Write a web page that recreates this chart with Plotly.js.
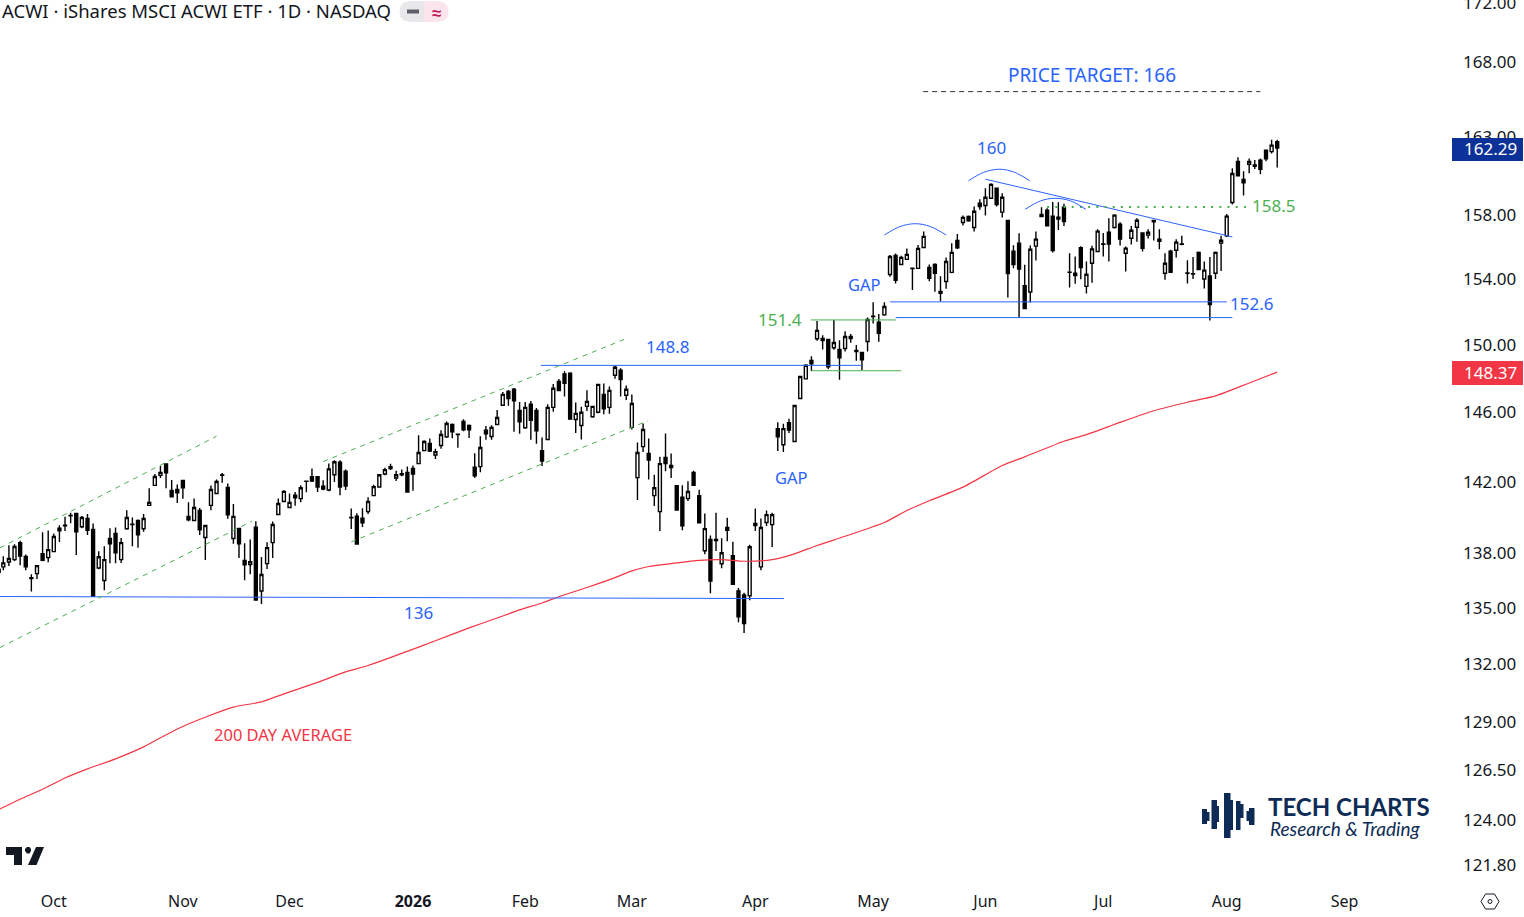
<!DOCTYPE html>
<html>
<head>
<meta charset="utf-8">
<script src="https://cdn.plot.ly/plotly-3.0.1.min.js"></script>
<style>html,body{margin:0;padding:0;background:#fff;overflow:hidden}</style>
</head>
<body>
<div id="chart" style="width:1524px;height:917px"></div>
<script>
const chartTitle = 'ACWI · iShares MSCI ACWI ETF · 1D · NASDAQ';
const openPrices = [137.24,137.51,137.64,138.58,137.82,136.64,136.87,137.97,137.75,138.08,
139.38,139.55,140.09,140.21,139.46,139.92,139.31,137.18,136.49,138.81,
139.09,137.64,139.35,139.60,139.81,139.35,140.66,141.79,142.36,143.01,
141.50,141.56,142.07,140.04,139.81,140.37,138.86,140.66,141.33,142.39,
141.67,138.81,139.37,137.59,137.37,139.44,135.92,137.42,138.58,140.15,
140.88,140.54,141.24,141.04,142.03,142.29,142.29,141.74,141.53,142.40,
143.11,142.60,139.98,140.05,139.94,140.31,141.21,141.70,142.44,142.75,
142.21,142.46,142.52,142.75,143.03,143.78,144.19,143.53,144.07,144.57,
145.29,144.72,145.47,145.24,142.83,142.86,144.96,144.59,145.29,146.41,
147.23,147.35,146.11,145.10,146.47,146.11,143.78,144.42,146.29,147.82,
148.26,148.30,145.58,145.23,146.35,145.74,146.00,147.05,146.29,148.18,
148.48,147.00,145.12,142.23,144.01,143.61,141.21,140.31,143.38,142.81,
141.78,141.12,141.04,142.52,141.21,138.13,138.75,138.75,137.41,139.42,
137.85,135.93,135.71,135.66,139.53,137.24,139.70,139.58,145.05,144.12,
145.40,144.30,146.81,147.97,149.06,150.36,150.26,150.32,149.82,149.72,
149.78,150.38,149.66,149.54,150.20,151.72,151.37,151.81,154.28,155.46,
154.90,155.22,154.67,154.66,155.96,154.72,154.90,153.24,153.85,154.41,
156.40,157.53,157.91,157.21,158.75,158.60,159.06,159.70,158.18,157.65,
155.73,156.23,153.59,153.20,156.04,157.90,158.30,157.93,157.86,158.49,
154.43,154.36,155.94,153.55,154.98,155.71,156.18,156.91,157.21,157.42,
155.60,156.54,157.23,156.87,156.73,157.65,156.48,154.36,155.73,155.79,
156.18,154.37,154.33,155.65,154.00,154.19,154.36,156.23,156.69,158.79,
161.43,160.26,161.24,161.19,161.50,162.15,162.06,162.70];
const highPrices = [137.82,138.44,138.49,138.68,137.92,136.84,137.31,139.16,139.25,139.09,
139.55,140.02,140.24,140.22,140.06,140.17,139.64,138.10,138.38,139.38,
139.42,138.83,140.39,139.98,139.87,140.17,141.63,142.44,142.89,143.02,
142.09,141.84,142.08,140.83,141.05,140.52,139.54,141.79,142.13,142.49,
141.90,140.74,139.38,138.55,138.75,139.77,137.79,138.60,139.76,141.05,
141.52,141.33,141.41,141.80,142.06,142.75,142.30,142.08,143.04,143.22,
143.22,142.70,140.48,140.22,140.50,141.12,141.83,142.44,142.80,143.03,
142.63,142.69,142.86,142.92,144.67,144.38,144.48,143.88,144.96,145.47,
145.35,144.77,145.60,145.29,143.63,144.61,145.20,145.24,146.13,147.19,
147.31,147.43,146.60,146.60,146.66,146.25,144.53,146.47,147.66,147.96,
148.42,148.36,146.58,146.33,147.29,146.37,147.65,147.70,147.52,148.74,
148.60,147.58,147.05,144.25,145.35,144.48,142.40,143.42,144.77,143.61,
141.79,141.80,142.02,142.63,141.55,140.20,138.97,140.25,138.82,139.97,
138.63,136.09,135.82,138.46,140.48,139.92,140.37,140.25,145.42,145.34,
145.63,146.41,148.15,148.84,149.32,151.43,150.58,150.33,151.49,150.28,
150.81,150.65,149.98,149.55,151.65,152.57,151.86,152.57,155.49,155.59,
155.44,155.90,154.72,156.11,156.96,154.90,154.97,154.18,155.34,156.23,
156.80,157.97,157.97,158.54,159.00,159.70,160.02,159.71,159.38,157.66,
156.10,156.85,154.88,156.08,156.96,158.49,158.43,158.83,158.81,158.71,
155.60,155.40,156.04,155.08,156.06,157.10,156.87,157.80,158.05,157.54,
156.02,157.31,157.80,156.88,157.10,157.69,157.10,155.60,155.81,156.48,
156.69,155.17,155.36,155.71,155.08,155.36,155.71,156.69,158.07,160.99,
161.69,160.79,161.62,161.52,161.62,162.16,162.83,162.83];
const lowPrices = [137.05,137.29,137.57,137.33,137.05,135.90,136.58,137.55,137.49,138.05,
138.62,139.22,139.66,137.90,139.38,139.00,135.63,137.11,135.96,137.44,
137.44,137.46,139.29,138.38,138.29,139.18,140.64,141.77,142.21,141.63,
141.14,140.79,141.03,139.77,139.77,139.00,137.62,140.39,141.32,141.94,
139.91,138.51,137.73,136.51,136.84,135.43,135.22,137.13,137.73,140.14,
140.87,140.53,140.64,140.84,141.40,141.99,141.42,141.51,141.46,141.99,
141.23,141.53,139.34,138.50,139.45,140.18,141.20,141.65,142.37,142.67,
142.04,142.31,141.42,141.48,143.02,143.77,143.70,143.30,143.88,144.51,
144.49,143.94,144.90,144.51,142.21,142.54,144.40,144.40,145.28,146.40,
146.39,144.87,144.75,145.04,144.40,144.17,142.90,144.41,146.03,147.26,
146.92,145.56,144.80,144.42,146.07,145.68,145.94,145.88,145.92,147.98,
146.92,146.72,145.00,140.96,143.70,142.12,140.63,139.23,142.60,142.21,
140.39,139.27,140.91,141.76,139.67,137.93,135.80,138.11,137.17,138.65,
136.28,134.23,133.66,135.42,139.23,137.05,139.51,138.34,143.75,143.70,
144.80,144.29,146.80,147.96,148.44,150.24,149.72,148.56,149.70,147.91,
149.60,150.12,149.05,148.50,149.60,151.29,150.18,151.75,154.14,153.73,
154.86,155.21,153.33,154.62,155.95,153.86,153.22,152.63,153.40,154.35,
155.87,157.34,157.57,156.96,158.33,157.97,159.04,158.54,157.84,152.87,
154.67,151.65,152.18,152.56,155.15,157.86,157.27,155.65,157.06,157.31,
153.48,153.71,153.98,153.11,153.77,155.67,155.40,155.08,157.14,156.08,
154.47,156.15,156.31,155.71,156.52,156.39,155.85,153.96,154.38,155.33,
156.10,153.73,154.01,154.57,153.42,151.47,154.01,154.50,156.62,158.66,
160.46,159.23,160.67,160.93,160.60,161.43,161.93,161.03];
const closePrices = [137.46,137.70,138.36,137.84,137.24,136.60,137.31,137.60,138.19,138.92,
139.23,139.52,140.07,139.18,139.98,139.27,135.63,137.80,137.64,138.51,
138.01,138.58,139.98,139.58,139.01,139.92,140.83,142.30,142.53,142.51,
141.15,141.37,141.65,139.85,140.54,139.29,139.53,141.56,142.01,142.37,
140.13,140.04,138.51,137.35,137.53,135.43,136.82,138.30,139.59,140.77,
141.45,140.83,141.09,141.66,142.02,142.04,141.70,141.59,142.73,143.14,
141.70,141.76,139.96,138.50,139.68,140.88,141.72,142.40,142.69,142.86,
142.40,142.39,141.42,142.44,143.67,144.30,143.76,143.72,144.71,145.35,
144.87,144.70,144.98,144.98,142.33,143.96,144.75,145.12,145.70,147.05,
146.80,146.68,145.45,146.29,145.53,144.92,143.18,146.29,147.41,147.27,
147.70,145.60,145.94,146.00,146.64,146.35,147.64,146.21,147.29,148.66,
147.92,147.35,146.52,143.67,145.00,143.24,141.66,143.03,143.03,142.92,
140.40,139.51,141.44,141.80,139.68,139.36,136.47,138.69,138.02,139.27,
136.29,134.53,134.16,138.35,139.64,139.42,140.14,140.14,144.57,145.05,
144.97,146.40,148.11,148.78,148.86,150.87,150.38,148.68,150.14,149.22,
150.50,150.50,149.60,149.10,151.53,151.70,150.69,152.32,155.40,153.92,
155.34,155.53,154.65,155.90,156.65,154.04,154.35,153.12,155.09,155.65,
155.94,157.85,157.63,158.24,158.54,159.13,159.95,158.66,159.13,154.34,
154.90,154.61,152.19,155.85,156.48,158.03,157.31,155.77,157.74,157.59,
154.41,154.21,154.71,154.30,155.87,156.98,156.16,156.17,157.99,156.48,
155.92,157.04,157.67,155.90,156.91,157.57,156.35,154.98,154.42,156.29,
156.16,154.35,154.31,154.58,154.55,152.44,155.65,156.41,157.93,160.65,
160.50,160.05,161.43,161.11,160.91,161.60,162.48,162.29];

// 200 day average
const maBars = [-1,3,7,11,15,20,25,31,37,41,46,50,56,61,65,71,77,83,88,92,96,99,104,109,112,115,119,124,128,132,137,141,145,150,157,161,165,171,178,182,189,193,199,205,211,216,222,227];
const maValues = [124.51,125.05,125.55,126.12,126.58,127.09,127.70,128.62,129.34,129.75,130.02,130.44,131.04,131.59,131.93,132.57,133.24,133.93,134.46,134.90,135.27,135.61,136.11,136.65,137.02,137.26,137.42,137.60,137.64,137.55,137.64,137.96,138.42,138.93,139.70,140.37,140.92,141.69,142.92,143.42,144.32,144.70,145.41,146.09,146.59,146.96,147.72,148.37];

const yTickValues = [172,168,163,158,154,150,146,142,138,135,132,129,126.5,124,121.8];
const yTickLabels = ['172.00','168.00','163.00','158.00','154.00','150.00','146.00','142.00','138.00','135.00','132.00','129.00','126.50','124.00','121.80'];
const monthBars = [9,32,51,73,93,112,134,155,175,196,218,239];
const monthLabels = ['Oct','Nov','Dec','<b>2026</b>','Feb','Mar','Apr','May','Jun','Jul','Aug','Sep'];

const BLUE = '#2962ff', GREEN = '#4caf50', RED = '#f23645';

// Drawn lines on the chart: bars, prices
const supportBars = [-0.6,139.1],     supportPrices = [135.62,135.51];
const resistBars  = [95.8,153],       resistPrices  = [148.77,148.77];
const gapTopBars  = [143.9,159.1],    gapTopPrices  = [151.5,151.5];
const gapLowBars  = [144,160],        gapLowPrices  = [148.45,148.45];
const neckHighBars= [158,218],        neckHighPrices= [152.6,152.6];
const neckLowBars = [159,219],        neckLowPrices = [151.64,151.64];
const trendBars   = [175,219],        trendPrices   = [160.28,156.62];
const breakBars   = [186,221.6],      breakPrices   = [158.5,158.5];
const targetBars  = [163.9,224],      targetPrices  = [166,166];
const chan1UpBars = [-0.6,38],        chan1UpPrices = [138.29,144.61];
const chan1LoBars = [-0.6,44.3],      chan1LoPrices = [132.88,139.77];
const chan2UpBars = [57,110.6],       chan2UpPrices = [143.15,150.32];
const chan2LoBars = [62,114.9],       chan2LoPrices = [138.62,145.51];
const arc1Bars = [157,159.8,162.5,165.2,168],   arc1Prices = [156.74,157.27,157.45,157.27,156.74];
const arc2Bars = [172,174.7,177.6,180.2,182.9], arc2Prices = [160.18,160.72,160.92,160.72,160.18];
const arc3Bars = [182.1,184.8,187.4,190.2,192.9], arc3Prices = [158.36,158.89,159.06,158.89,158.36];
const edgeBars = [-0.55,-0.55], edgePrices = [136.91,137.15];

// Chart notes
const noteTexts  = ['PRICE TARGET: 166','160','158.5','152.6','GAP','GAP','151.4','148.8','136','200 DAY AVERAGE'];
const noteBars   = [194,176,226.4,222.5,153.4,140.4,138.4,118.4,74,49.8];
const notePrices = [167.12,162.30,158.63,152.47,153.69,142.26,151.52,149.87,134.77,128.31];
const noteColors = [BLUE,BLUE,GREEN,BLUE,BLUE,BLUE,GREEN,BLUE,BLUE,RED];
const noteSizes  = [19,17,17,17,16.5,16.5,17,17,17,16.5];

const lastLabel = '162.29', maLabel = '148.37';

// ---- layout frame
const W = 1524, H = 917, plotR = 1460, plotB = 885;
const pxPerBar = 5.612, firstBarPx = 3.3;
const topPrice = 172.2, bottomPrice = 120.83;
const FONT = '"Noto Sans", sans-serif';
const fx = x => x / plotR;
const fy = y => (plotB - y) / plotB;

const barIdx = openPrices.map((_, i) => i);

function line(x, y, color, width, dash, spline) {
  return {type:'scatter', mode:'lines', x, y, hoverinfo:'skip', showlegend:false,
    line:{color, width, dash:dash||'solid', shape:spline?'spline':'linear', smoothing:spline||1}};
}

const traces = [
  {type:'candlestick', x:barIdx, open:openPrices, high:highPrices, low:lowPrices, close:closePrices,
    increasing:{line:{color:'#000000',width:1.4}, fillcolor:'#ffffff'},
    decreasing:{line:{color:'#000000',width:1.4}, fillcolor:'#000000'},
    whiskerwidth:0, hoverinfo:'skip', showlegend:false},
  line(edgeBars, edgePrices, '#000', 1.3),
  line(maBars, maValues, RED, 1.2, null, 0.6),
  line(supportBars, supportPrices, BLUE, 1),
  line(resistBars, resistPrices, BLUE, 1),
  line(gapTopBars, gapTopPrices, GREEN, 1),
  line(gapLowBars, gapLowPrices, GREEN, 1),
  line(neckHighBars, neckHighPrices, BLUE, 1),
  line(neckLowBars, neckLowPrices, BLUE, 1),
  line(trendBars, trendPrices, BLUE, 1),
  line(breakBars, breakPrices, GREEN, 2, '2px,6.2px'),
  line(targetBars, targetPrices, '#333', 1, '5px,4px'),
  line(chan1UpBars, chan1UpPrices, GREEN, 1, '5px,5px'),
  line(chan1LoBars, chan1LoPrices, GREEN, 1, '5px,5px'),
  line(chan2UpBars, chan2UpPrices, GREEN, 1, '5px,5px'),
  line(chan2LoBars, chan2LoPrices, GREEN, 1, '5px,5px'),
  line(arc1Bars, arc1Prices, BLUE, 1, null, 1),
  line(arc2Bars, arc2Prices, BLUE, 1, null, 1),
  line(arc3Bars, arc3Prices, BLUE, 1, null, 1)
];

const annotations = noteTexts.map((t,i)=>({
  text:t, xref:'x', yref:'y', x:noteBars[i], y:Math.log10(notePrices[i]),
  xanchor:'center', yanchor:'middle', showarrow:false,
  font:{family:FONT, size:noteSizes[i], color:noteColors[i]}
}));
function tagText(text, yPx){
  return {text, xref:'paper', yref:'paper', x:fx(1490.5), y:fy(yPx),
    xanchor:'center', yanchor:'middle', showarrow:false,
    font:{family:FONT, size:17, color:'#ffffff'}};
}
annotations.push(tagText(lastLabel,148));
annotations.push(tagText(maLabel,372));
annotations.push({text:'<b>≈</b>', xref:'paper', yref:'paper', x:fx(436), y:fy(12.5), xanchor:'center', yanchor:'middle',
  showarrow:false, font:{family:FONT,size:17,color:'#c2185b'}});
annotations.push({text:'<b>TECH CHARTS</b>', xref:'paper', yref:'paper', x:fx(1266), y:fy(806), xanchor:'left', yanchor:'middle',
  showarrow:false, font:{family:'Lato, sans-serif',size:24,weight:900,color:'#0d2b55'}});
annotations.push({text:'<i>Research &amp; Trading</i>', xref:'paper', yref:'paper', x:fx(1268), y:fy(828), xanchor:'left', yanchor:'middle',
  showarrow:false, font:{family:'Lato, sans-serif',size:19,color:'#0d2b55'}});

function rectPath(x0,y0,x1,y1,color){
  return {type:'rect', xref:'paper', yref:'paper', x0:fx(x0), x1:fx(x1), y0:fy(y0), y1:fy(y1),
    fillcolor:color, line:{width:0}, layer:'above'};
}
function pathShape(points,fill,stroke,w){
  const d = points.map((p,i)=>(i?'L':'M')+fx(p[0])+','+fy(p[1])).join(' ')+' Z';
  return {type:'path', xref:'paper', yref:'paper', path:d,
    fillcolor:fill||'rgba(0,0,0,0)', line:{color:stroke||'rgba(0,0,0,0)', width:w||0}, layer:'above'};
}
const NAVY='#0d2b55';
const shapes = [
  // price tags
  rectPath(1452,138,1523,161,'#0c3299'),
  rectPath(1452,361,1523,385,RED),
  // status pill
  pathShape([[410,1],[424,1],[424,22],[410,22],[404,20.5],[400.5,17],[399.5,11.5],[400.5,6],[404,2.5]],'#e8e8ea'),
  pathShape([[424,1],[438,1],[444,2.5],[447.5,6],[448.5,11.5],[447.5,17],[444,20.5],[438,22],[424,22]],'#fbe4ec'),
  rectPath(407,9.5,419,13.5,'#5d606b'),
  // TradingView mark
  pathShape([[6,847],[22,847],[22,865],[14,865],[14,855],[6,855]],'#131722'),
  pathShape([[25,849],[27,847],[29.5,847],[31,849],[31,851],[29.5,853.5],[27,853.5],[25,851]],'#131722'),
  pathShape([[36,847],[44,847],[36.5,865],[28,865]],'#131722'),
  // Tech Charts mark
  rectPath(1202,809,1207,824,NAVY), rectPath(1206,812,1209.5,821,NAVY),
  rectPath(1211.5,800,1217,829,NAVY), rectPath(1216,806,1219,822,NAVY),
  rectPath(1224,793,1230.5,838,NAVY), rectPath(1229,800,1233,830,NAVY),
  rectPath(1236,801,1240.5,830,NAVY), rectPath(1239,804,1243.5,818,NAVY),
  rectPath(1249,808,1254.5,825,NAVY), rectPath(1246.5,811,1250,821,NAVY),
  // settings hexagon
  pathShape([[1481,901.5],[1485.5,894],[1494.5,894],[1499,901.5],[1494.5,909],[1485.5,909]],null,'#131722',1),
  {type:'circle', xref:'paper', yref:'paper', x0:fx(1488), x1:fx(1492), y0:fy(899.5), y1:fy(903.5),
    line:{color:'#131722',width:1}, fillcolor:'rgba(0,0,0,0)', layer:'above'}
];

const layout = {
  width:W, height:H, paper_bgcolor:'#ffffff', plot_bgcolor:'#ffffff',
  margin:{l:0, r:W-plotR, t:0, b:H-plotB, pad:0}, showlegend:false,
  font:{family:FONT, color:'#131722', size:16},
  boxgap:0.25,
  title:{text:chartTitle, xref:'container', yref:'container', x:2/W, y:1-12/H, xanchor:'left', yanchor:'middle',
    font:{family:FONT, size:18.5, color:'#131722'}},
  xaxis:{type:'linear', range:[-firstBarPx/pxPerBar,(plotR-firstBarPx)/pxPerBar], autorange:false,
    rangeslider:{visible:false}, showgrid:false, zeroline:false, showline:false, ticks:'',
    tickmode:'array', tickvals:monthBars, ticktext:monthLabels, tickangle:0, ticklabelstandoff:5,
    tickfont:{family:FONT,size:16,color:'#131722'}},
  yaxis:{type:'log', side:'right', range:[Math.log10(bottomPrice),Math.log10(topPrice)], autorange:false,
    showgrid:false, zeroline:false, showline:false, ticks:'', ticklabeloverflow:'allow',
    tickmode:'array', tickvals:yTickValues, ticktext:yTickLabels, ticklabelstandoff:2,
    tickfont:{family:FONT,size:17,color:'#131722'}},
  annotations, shapes
};
Plotly.newPlot('chart', traces, layout, {staticPlot:true, displayModeBar:false});
</script>
</body>
</html>
